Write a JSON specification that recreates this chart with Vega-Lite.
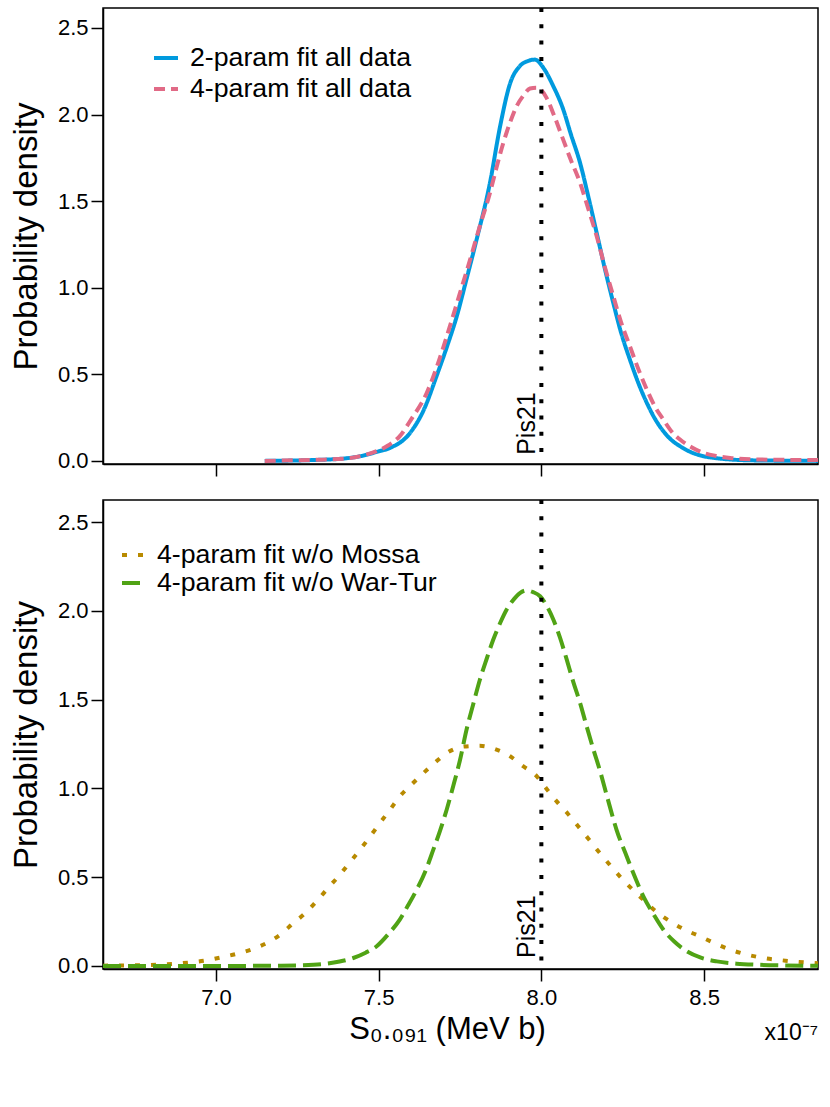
{
  "$schema": "https://vega.github.io/schema/vega-lite/v6.json",
  "background": "white",
  "padding": {"left": 9, "top": 5, "right": 12, "bottom": 5},
  "bounds": "flush",
  "spacing": 36,
  "config": {
    "font": "Liberation Sans",
    "view": {"stroke": "black", "strokeWidth": 1.5},
    "axis": {
      "grid": false,
      "domainColor": "black",
      "domainWidth": 1.5,
      "tickColor": "black",
      "tickWidth": 1.5,
      "tickSize": 12,
      "labelColor": "black",
      "labelFontSize": 22,
      "labelFont": "Liberation Sans",
      "titleFont": "Liberation Sans",
      "titleColor": "black",
      "titleFontWeight": "normal"
    },
    "legend": {"labelFont": "Liberation Sans", "labelColor": "black", "labelLimit": 500}
  },
  "datasets": {
    "top": [
      {"x": 7.15, "y": 0.0, "series": "2-param fit all data"},
      {"x": 7.30, "y": 0.005, "series": "2-param fit all data"},
      {"x": 7.40, "y": 0.015, "series": "2-param fit all data"},
      {"x": 7.443, "y": 0.027, "series": "2-param fit all data"},
      {"x": 7.50, "y": 0.055, "series": "2-param fit all data"},
      {"x": 7.535, "y": 0.075, "series": "2-param fit all data"},
      {"x": 7.596, "y": 0.16, "series": "2-param fit all data"},
      {"x": 7.64, "y": 0.30, "series": "2-param fit all data"},
      {"x": 7.678, "y": 0.49, "series": "2-param fit all data"},
      {"x": 7.71, "y": 0.66, "series": "2-param fit all data"},
      {"x": 7.74, "y": 0.835, "series": "2-param fit all data"},
      {"x": 7.77, "y": 1.05, "series": "2-param fit all data"},
      {"x": 7.801, "y": 1.278, "series": "2-param fit all data"},
      {"x": 7.842, "y": 1.605, "series": "2-param fit all data"},
      {"x": 7.873, "y": 1.93, "series": "2-param fit all data"},
      {"x": 7.904, "y": 2.18, "series": "2-param fit all data"},
      {"x": 7.934, "y": 2.28, "series": "2-param fit all data"},
      {"x": 7.96, "y": 2.31, "series": "2-param fit all data"},
      {"x": 7.98, "y": 2.317, "series": "2-param fit all data"},
      {"x": 8.006, "y": 2.27, "series": "2-param fit all data"},
      {"x": 8.035, "y": 2.17, "series": "2-param fit all data"},
      {"x": 8.067, "y": 2.03, "series": "2-param fit all data"},
      {"x": 8.09, "y": 1.89, "series": "2-param fit all data"},
      {"x": 8.119, "y": 1.72, "series": "2-param fit all data"},
      {"x": 8.145, "y": 1.52, "series": "2-param fit all data"},
      {"x": 8.17, "y": 1.316, "series": "2-param fit all data"},
      {"x": 8.195, "y": 1.11, "series": "2-param fit all data"},
      {"x": 8.221, "y": 0.912, "series": "2-param fit all data"},
      {"x": 8.245, "y": 0.74, "series": "2-param fit all data"},
      {"x": 8.272, "y": 0.585, "series": "2-param fit all data"},
      {"x": 8.30, "y": 0.44, "series": "2-param fit all data"},
      {"x": 8.324, "y": 0.335, "series": "2-param fit all data"},
      {"x": 8.35, "y": 0.24, "series": "2-param fit all data"},
      {"x": 8.375, "y": 0.171, "series": "2-param fit all data"},
      {"x": 8.40, "y": 0.12, "series": "2-param fit all data"},
      {"x": 8.426, "y": 0.085, "series": "2-param fit all data"},
      {"x": 8.46, "y": 0.05, "series": "2-param fit all data"},
      {"x": 8.498, "y": 0.027, "series": "2-param fit all data"},
      {"x": 8.54, "y": 0.015, "series": "2-param fit all data"},
      {"x": 8.58, "y": 0.008, "series": "2-param fit all data"},
      {"x": 8.65, "y": 0.003, "series": "2-param fit all data"},
      {"x": 8.75, "y": 0.001, "series": "2-param fit all data"},
      {"x": 8.85, "y": 0.0, "series": "2-param fit all data"},
      {"x": 7.15, "y": 0.0, "series": "4-param fit all data"},
      {"x": 7.30, "y": 0.006, "series": "4-param fit all data"},
      {"x": 7.391, "y": 0.012, "series": "4-param fit all data"},
      {"x": 7.45, "y": 0.03, "series": "4-param fit all data"},
      {"x": 7.494, "y": 0.056, "series": "4-param fit all data"},
      {"x": 7.53, "y": 0.09, "series": "4-param fit all data"},
      {"x": 7.565, "y": 0.143, "series": "4-param fit all data"},
      {"x": 7.60, "y": 0.24, "series": "4-param fit all data"},
      {"x": 7.648, "y": 0.393, "series": "4-param fit all data"},
      {"x": 7.68, "y": 0.55, "series": "4-param fit all data"},
      {"x": 7.719, "y": 0.778, "series": "4-param fit all data"},
      {"x": 7.75, "y": 0.97, "series": "4-param fit all data"},
      {"x": 7.781, "y": 1.162, "series": "4-param fit all data"},
      {"x": 7.81, "y": 1.35, "series": "4-param fit all data"},
      {"x": 7.842, "y": 1.547, "series": "4-param fit all data"},
      {"x": 7.863, "y": 1.70, "series": "4-param fit all data"},
      {"x": 7.883, "y": 1.836, "series": "4-param fit all data"},
      {"x": 7.905, "y": 1.96, "series": "4-param fit all data"},
      {"x": 7.924, "y": 2.048, "series": "4-param fit all data"},
      {"x": 7.945, "y": 2.11, "series": "4-param fit all data"},
      {"x": 7.965, "y": 2.15, "series": "4-param fit all data"},
      {"x": 7.985, "y": 2.155, "series": "4-param fit all data"},
      {"x": 8.00, "y": 2.14, "series": "4-param fit all data"},
      {"x": 8.016, "y": 2.096, "series": "4-param fit all data"},
      {"x": 8.04, "y": 1.99, "series": "4-param fit all data"},
      {"x": 8.067, "y": 1.855, "series": "4-param fit all data"},
      {"x": 8.09, "y": 1.74, "series": "4-param fit all data"},
      {"x": 8.119, "y": 1.605, "series": "4-param fit all data"},
      {"x": 8.145, "y": 1.45, "series": "4-param fit all data"},
      {"x": 8.17, "y": 1.297, "series": "4-param fit all data"},
      {"x": 8.195, "y": 1.12, "series": "4-param fit all data"},
      {"x": 8.221, "y": 0.951, "series": "4-param fit all data"},
      {"x": 8.245, "y": 0.80, "series": "4-param fit all data"},
      {"x": 8.272, "y": 0.662, "series": "4-param fit all data"},
      {"x": 8.30, "y": 0.52, "series": "4-param fit all data"},
      {"x": 8.324, "y": 0.412, "series": "4-param fit all data"},
      {"x": 8.35, "y": 0.31, "series": "4-param fit all data"},
      {"x": 8.375, "y": 0.238, "series": "4-param fit all data"},
      {"x": 8.40, "y": 0.17, "series": "4-param fit all data"},
      {"x": 8.426, "y": 0.123, "series": "4-param fit all data"},
      {"x": 8.46, "y": 0.08, "series": "4-param fit all data"},
      {"x": 8.498, "y": 0.046, "series": "4-param fit all data"},
      {"x": 8.54, "y": 0.028, "series": "4-param fit all data"},
      {"x": 8.58, "y": 0.017, "series": "4-param fit all data"},
      {"x": 8.65, "y": 0.009, "series": "4-param fit all data"},
      {"x": 8.75, "y": 0.006, "series": "4-param fit all data"},
      {"x": 8.85, "y": 0.005, "series": "4-param fit all data"}
    ],
    "bottom": [
      {"x": 6.653, "y": 0.002, "series": "4-param fit w/o Mossa"},
      {"x": 6.75, "y": 0.004, "series": "4-param fit w/o Mossa"},
      {"x": 6.818, "y": 0.007, "series": "4-param fit w/o Mossa"},
      {"x": 6.87, "y": 0.012, "series": "4-param fit w/o Mossa"},
      {"x": 6.92, "y": 0.02, "series": "4-param fit w/o Mossa"},
      {"x": 6.971, "y": 0.032, "series": "4-param fit w/o Mossa"},
      {"x": 7.02, "y": 0.05, "series": "4-param fit w/o Mossa"},
      {"x": 7.074, "y": 0.073, "series": "4-param fit w/o Mossa"},
      {"x": 7.12, "y": 0.10, "series": "4-param fit w/o Mossa"},
      {"x": 7.166, "y": 0.139, "series": "4-param fit w/o Mossa"},
      {"x": 7.20, "y": 0.18, "series": "4-param fit w/o Mossa"},
      {"x": 7.238, "y": 0.242, "series": "4-param fit w/o Mossa"},
      {"x": 7.27, "y": 0.29, "series": "4-param fit w/o Mossa"},
      {"x": 7.309, "y": 0.364, "series": "4-param fit w/o Mossa"},
      {"x": 7.345, "y": 0.44, "series": "4-param fit w/o Mossa"},
      {"x": 7.381, "y": 0.514, "series": "4-param fit w/o Mossa"},
      {"x": 7.41, "y": 0.58, "series": "4-param fit w/o Mossa"},
      {"x": 7.443, "y": 0.655, "series": "4-param fit w/o Mossa"},
      {"x": 7.47, "y": 0.72, "series": "4-param fit w/o Mossa"},
      {"x": 7.504, "y": 0.805, "series": "4-param fit w/o Mossa"},
      {"x": 7.535, "y": 0.88, "series": "4-param fit w/o Mossa"},
      {"x": 7.565, "y": 0.955, "series": "4-param fit w/o Mossa"},
      {"x": 7.60, "y": 1.02, "series": "4-param fit w/o Mossa"},
      {"x": 7.627, "y": 1.068, "series": "4-param fit w/o Mossa"},
      {"x": 7.67, "y": 1.14, "series": "4-param fit w/o Mossa"},
      {"x": 7.709, "y": 1.199, "series": "4-param fit w/o Mossa"},
      {"x": 7.76, "y": 1.235, "series": "4-param fit w/o Mossa"},
      {"x": 7.811, "y": 1.24, "series": "4-param fit w/o Mossa"},
      {"x": 7.86, "y": 1.22, "series": "4-param fit w/o Mossa"},
      {"x": 7.904, "y": 1.181, "series": "4-param fit w/o Mossa"},
      {"x": 7.94, "y": 1.13, "series": "4-param fit w/o Mossa"},
      {"x": 7.986, "y": 1.068, "series": "4-param fit w/o Mossa"},
      {"x": 8.015, "y": 1.0, "series": "4-param fit w/o Mossa"},
      {"x": 8.047, "y": 0.927, "series": "4-param fit w/o Mossa"},
      {"x": 8.08, "y": 0.86, "series": "4-param fit w/o Mossa"},
      {"x": 8.113, "y": 0.787, "series": "4-param fit w/o Mossa"},
      {"x": 8.145, "y": 0.715, "series": "4-param fit w/o Mossa"},
      {"x": 8.175, "y": 0.646, "series": "4-param fit w/o Mossa"},
      {"x": 8.21, "y": 0.57, "series": "4-param fit w/o Mossa"},
      {"x": 8.241, "y": 0.505, "series": "4-param fit w/o Mossa"},
      {"x": 8.275, "y": 0.44, "series": "4-param fit w/o Mossa"},
      {"x": 8.313, "y": 0.373, "series": "4-param fit w/o Mossa"},
      {"x": 8.35, "y": 0.31, "series": "4-param fit w/o Mossa"},
      {"x": 8.395, "y": 0.252, "series": "4-param fit w/o Mossa"},
      {"x": 8.44, "y": 0.205, "series": "4-param fit w/o Mossa"},
      {"x": 8.487, "y": 0.167, "series": "4-param fit w/o Mossa"},
      {"x": 8.53, "y": 0.13, "series": "4-param fit w/o Mossa"},
      {"x": 8.58, "y": 0.092, "series": "4-param fit w/o Mossa"},
      {"x": 8.63, "y": 0.065, "series": "4-param fit w/o Mossa"},
      {"x": 8.682, "y": 0.045, "series": "4-param fit w/o Mossa"},
      {"x": 8.75, "y": 0.03, "series": "4-param fit w/o Mossa"},
      {"x": 8.85, "y": 0.015, "series": "4-param fit w/o Mossa"},
      {"x": 6.653, "y": 0.0, "series": "4-param fit w/o War-Tur"},
      {"x": 7.0, "y": 0.0, "series": "4-param fit w/o War-Tur"},
      {"x": 7.2, "y": 0.002, "series": "4-param fit w/o War-Tur"},
      {"x": 7.30, "y": 0.007, "series": "4-param fit w/o War-Tur"},
      {"x": 7.34, "y": 0.013, "series": "4-param fit w/o War-Tur"},
      {"x": 7.38, "y": 0.025, "series": "4-param fit w/o War-Tur"},
      {"x": 7.422, "y": 0.045, "series": "4-param fit w/o War-Tur"},
      {"x": 7.46, "y": 0.075, "series": "4-param fit w/o War-Tur"},
      {"x": 7.494, "y": 0.111, "series": "4-param fit w/o War-Tur"},
      {"x": 7.53, "y": 0.18, "series": "4-param fit w/o War-Tur"},
      {"x": 7.565, "y": 0.261, "series": "4-param fit w/o War-Tur"},
      {"x": 7.59, "y": 0.34, "series": "4-param fit w/o War-Tur"},
      {"x": 7.617, "y": 0.43, "series": "4-param fit w/o War-Tur"},
      {"x": 7.645, "y": 0.54, "series": "4-param fit w/o War-Tur"},
      {"x": 7.668, "y": 0.655, "series": "4-param fit w/o War-Tur"},
      {"x": 7.688, "y": 0.758, "series": "4-param fit w/o War-Tur"},
      {"x": 7.709, "y": 0.88, "series": "4-param fit w/o War-Tur"},
      {"x": 7.729, "y": 1.012, "series": "4-param fit w/o War-Tur"},
      {"x": 7.75, "y": 1.16, "series": "4-param fit w/o War-Tur"},
      {"x": 7.77, "y": 1.33, "series": "4-param fit w/o War-Tur"},
      {"x": 7.79, "y": 1.47, "series": "4-param fit w/o War-Tur"},
      {"x": 7.811, "y": 1.612, "series": "4-param fit w/o War-Tur"},
      {"x": 7.832, "y": 1.73, "series": "4-param fit w/o War-Tur"},
      {"x": 7.852, "y": 1.837, "series": "4-param fit w/o War-Tur"},
      {"x": 7.873, "y": 1.93, "series": "4-param fit w/o War-Tur"},
      {"x": 7.893, "y": 2.006, "series": "4-param fit w/o War-Tur"},
      {"x": 7.913, "y": 2.06, "series": "4-param fit w/o War-Tur"},
      {"x": 7.934, "y": 2.1, "series": "4-param fit w/o War-Tur"},
      {"x": 7.955, "y": 2.115, "series": "4-param fit w/o War-Tur"},
      {"x": 7.975, "y": 2.105, "series": "4-param fit w/o War-Tur"},
      {"x": 7.996, "y": 2.082, "series": "4-param fit w/o War-Tur"},
      {"x": 8.016, "y": 2.03, "series": "4-param fit w/o War-Tur"},
      {"x": 8.037, "y": 1.95, "series": "4-param fit w/o War-Tur"},
      {"x": 8.057, "y": 1.85, "series": "4-param fit w/o War-Tur"},
      {"x": 8.078, "y": 1.725, "series": "4-param fit w/o War-Tur"},
      {"x": 8.098, "y": 1.60, "series": "4-param fit w/o War-Tur"},
      {"x": 8.119, "y": 1.481, "series": "4-param fit w/o War-Tur"},
      {"x": 8.139, "y": 1.35, "series": "4-param fit w/o War-Tur"},
      {"x": 8.16, "y": 1.218, "series": "4-param fit w/o War-Tur"},
      {"x": 8.18, "y": 1.10, "series": "4-param fit w/o War-Tur"},
      {"x": 8.201, "y": 0.96, "series": "4-param fit w/o War-Tur"},
      {"x": 8.231, "y": 0.767, "series": "4-param fit w/o War-Tur"},
      {"x": 8.262, "y": 0.618, "series": "4-param fit w/o War-Tur"},
      {"x": 8.29, "y": 0.49, "series": "4-param fit w/o War-Tur"},
      {"x": 8.313, "y": 0.393, "series": "4-param fit w/o War-Tur"},
      {"x": 8.345, "y": 0.29, "series": "4-param fit w/o War-Tur"},
      {"x": 8.375, "y": 0.204, "series": "4-param fit w/o War-Tur"},
      {"x": 8.41, "y": 0.135, "series": "4-param fit w/o War-Tur"},
      {"x": 8.447, "y": 0.083, "series": "4-param fit w/o War-Tur"},
      {"x": 8.49, "y": 0.047, "series": "4-param fit w/o War-Tur"},
      {"x": 8.539, "y": 0.026, "series": "4-param fit w/o War-Tur"},
      {"x": 8.60, "y": 0.013, "series": "4-param fit w/o War-Tur"},
      {"x": 8.662, "y": 0.007, "series": "4-param fit w/o War-Tur"},
      {"x": 8.75, "y": 0.003, "series": "4-param fit w/o War-Tur"},
      {"x": 8.85, "y": 0.001, "series": "4-param fit w/o War-Tur"}
    ],
    "one": [{}]
  },
  "resolve": {"scale": {"color": "independent", "strokeDash": "independent", "y": "independent"}},
  "vconcat": [
    {
      "width": 715,
      "height": 456,
      "layer": [
        {
          "data": {"name": "top"},
          "mark": {"type": "line", "strokeWidth": 4, "strokeCap": "butt", "interpolate": "monotone", "clip": true},
          "encoding": {
            "x": {"field": "x", "type": "quantitative",
                  "scale": {"domain": [6.653, 8.85], "nice": false, "zero": false},
                  "axis": {"values": [7, 7.5, 8, 8.5], "labels": false, "title": null, "orient": "bottom"}},
            "y": {"field": "y", "type": "quantitative",
                  "scale": {"domain": [-0.018, 2.615], "nice": false, "zero": false},
                  "axis": {"values": [0, 0.5, 1, 1.5, 2, 2.5], "format": ".1f", "title": "Probability density",
                           "titleFontSize": 33, "titlePadding": 14, "labelPadding": 3}},
            "color": {"field": "series", "type": "nominal",
                      "scale": {"domain": ["2-param fit all data", "4-param fit all data"], "range": ["#009ADE", "#E16A86"]},
                      "legend": {"orient": "none", "legendX": 49, "legendY": 36, "title": null, "symbolType": "stroke",
                                 "symbolSize": 576, "symbolStrokeWidth": 4, "labelFontSize": 26.7, "labelOffset": 10,
                                 "rowPadding": 3, "padding": 0}},
            "strokeDash": {"field": "series", "type": "nominal",
                           "scale": {"domain": ["2-param fit all data", "4-param fit all data"], "range": [[1, 0], [11, 6]]},
                           "legend": {"orient": "none", "legendX": 49, "legendY": 36, "title": null, "symbolType": "stroke",
                                      "symbolSize": 576, "symbolStrokeWidth": 4, "labelFontSize": 26.7, "labelOffset": 10,
                                      "rowPadding": 3, "padding": 0}}
          }
        },
        {
          "data": {"name": "one"},
          "mark": {"type": "rule", "color": "black", "strokeWidth": 4, "strokeDash": [4, 12.3]},
          "encoding": {"x": {"datum": 8.0}}
        },
        {
          "data": {"name": "one"},
          "mark": {"type": "text", "text": "Pis21", "angle": 270, "align": "left", "baseline": "alphabetic",
                   "dy": -6, "fontSize": 25, "font": "Liberation Sans", "color": "black"},
          "encoding": {"x": {"datum": 8.0}, "y": {"datum": 0.035}}
        }
      ]
    },
    {
      "width": 715,
      "height": 469,
      "layer": [
        {
          "data": {"name": "bottom"},
          "mark": {"type": "line", "strokeWidth": 4, "strokeCap": "butt", "interpolate": "monotone", "clip": true},
          "encoding": {
            "x": {"field": "x", "type": "quantitative",
                  "scale": {"domain": [6.653, 8.85], "nice": false, "zero": false},
                  "axis": {"values": [7, 7.5, 8, 8.5], "format": ".1f", "title": "S₀.₀₉₁ (MeV b)",
                           "titleFontSize": 31, "titlePadding": 6, "labelPadding": 6, "titleX": 344}},
            "y": {"field": "y", "type": "quantitative",
                  "scale": {"domain": [-0.017, 2.624], "nice": false, "zero": false},
                  "axis": {"values": [0, 0.5, 1, 1.5, 2, 2.5], "format": ".1f", "title": "Probability density",
                           "titleFontSize": 33, "titlePadding": 14, "labelPadding": 3}},
            "color": {"field": "series", "type": "nominal",
                      "scale": {"domain": ["4-param fit w/o Mossa", "4-param fit w/o War-Tur"], "range": ["#B88A00", "#50A315"]},
                      "legend": {"orient": "none", "legendX": 17, "legendY": 41, "title": null, "symbolType": "stroke",
                                 "symbolSize": 576, "symbolStrokeWidth": 4, "labelFontSize": 26.7, "labelOffset": 9,
                                 "rowPadding": -1, "padding": 0}},
            "strokeDash": {"field": "series", "type": "nominal",
                           "scale": {"domain": ["4-param fit w/o Mossa", "4-param fit w/o War-Tur"], "range": [[5, 11], [18, 7]]},
                           "legend": {"orient": "none", "legendX": 17, "legendY": 41, "title": null, "symbolType": "stroke",
                                      "symbolSize": 576, "symbolStrokeWidth": 4, "labelFontSize": 26.7, "labelOffset": 9,
                                      "rowPadding": -1, "padding": 0}}
          }
        },
        {
          "data": {"name": "one"},
          "mark": {"type": "rule", "color": "black", "strokeWidth": 4, "strokeDash": [4, 12.3]},
          "encoding": {"x": {"datum": 8.0}}
        },
        {
          "data": {"name": "one"},
          "mark": {"type": "text", "text": "Pis21", "angle": 270, "align": "left", "baseline": "alphabetic",
                   "dy": -6, "fontSize": 25, "font": "Liberation Sans", "color": "black"},
          "encoding": {"x": {"datum": 8.0}, "y": {"datum": 0.045}}
        },
        {
          "data": {"name": "one"},
          "mark": {"type": "text", "text": "x10⁻⁷", "align": "right", "baseline": "middle",
                   "fontSize": 23, "font": "Liberation Sans", "color": "black"},
          "encoding": {"x": {"datum": 8.85}, "y": {"datum": -0.377}}
        }
      ]
    }
  ]
}
